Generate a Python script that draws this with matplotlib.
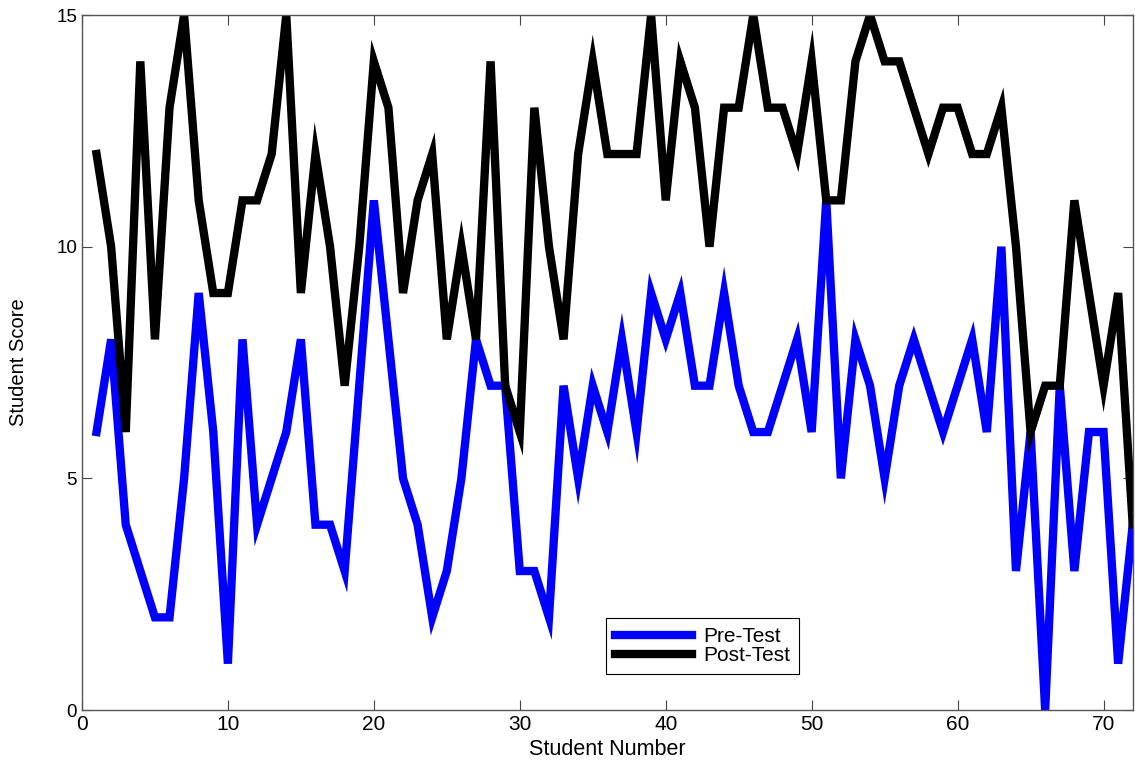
# Pre-test vs post-test scores per student, MATLAB-style line chart
import matplotlib
matplotlib.use("Agg")
import matplotlib.pyplot as plt

students = list(range(1, 73))

pre_test = [6, 8, 4, 3, 2, 2, 5, 9, 6, 1,
            8, 4, 5, 6, 8, 4, 4, 3, 7, 11,
            8, 5, 4, 2, 3, 5, 8, 7, 7, 3,
            3, 2, 7, 5, 7, 6, 8, 6, 9, 8,
            9, 7, 7, 9, 7, 6, 6, 7, 8, 6,
            11, 5, 8, 7, 5, 7, 8, 7, 6, 7,
            8, 6, 10, 3, 6, 0, 7, 3, 6, 6,
            1, 4]

post_test = [12, 10, 6, 14, 8, 13, 15, 11, 9, 9,
             11, 11, 12, 15, 9, 12, 10, 7, 10, 14,
             13, 9, 11, 12, 8, 10, 8, 14, 7, 6,
             13, 10, 8, 12, 14, 12, 12, 12, 15, 11,
             14, 13, 10, 13, 13, 15, 13, 13, 12, 14,
             11, 11, 14, 15, 14, 14, 13, 12, 13, 13,
             12, 12, 13, 10, 6, 7, 7, 11, 9, 7,
             9, 4]

narrow = ['Liberation Sans Narrow', 'Liberation Sans', 'DejaVu Sans']
regular = ['Liberation Sans', 'DejaVu Sans']

fig = plt.figure(figsize=(11.35, 7.71), dpi=100)
ax = fig.add_axes([0.0722, 0.0791, 0.9258, 0.9014])

ax.plot(students, pre_test, color='#0000ff', lw=6, label='Pre-Test', solid_joinstyle='miter')
ax.plot(students, post_test, color='black', lw=6, label='Post-Test', solid_joinstyle='miter')

ax.set_xlim(0, 72)
ax.set_ylim(0, 15)
ax.set_xticks(range(0, 71, 10))
ax.set_yticks([0, 5, 10, 15])

ax.tick_params(direction='in', top=True, right=True, length=7, width=0.8, color='#444444')
for sp in ax.spines.values():
    sp.set_color('#555555')
    sp.set_linewidth(1.0)

for lab in ax.get_xticklabels():
    lab.set_family(narrow)
    lab.set_fontsize(15)
for lab in ax.get_yticklabels():
    lab.set_family(regular)
    lab.set_fontsize(13.5)

ax.set_xlabel('Student Number', family=narrow, fontsize=15.5, labelpad=4)
ax.set_ylabel('Student Score', family=narrow, fontsize=14.5, labelpad=20)

leg = ax.legend(loc='lower left', bbox_to_anchor=(0.4985, 0.052),
                prop={'family': regular, 'size': 15},
                fancybox=False, framealpha=1, edgecolor='black',
                handlelength=3.7, borderpad=0.42, labelspacing=0.0,
                handletextpad=0.55, borderaxespad=0)
leg.get_frame().set_linewidth(0.8)

fig.savefig('out.png', dpi=100)
